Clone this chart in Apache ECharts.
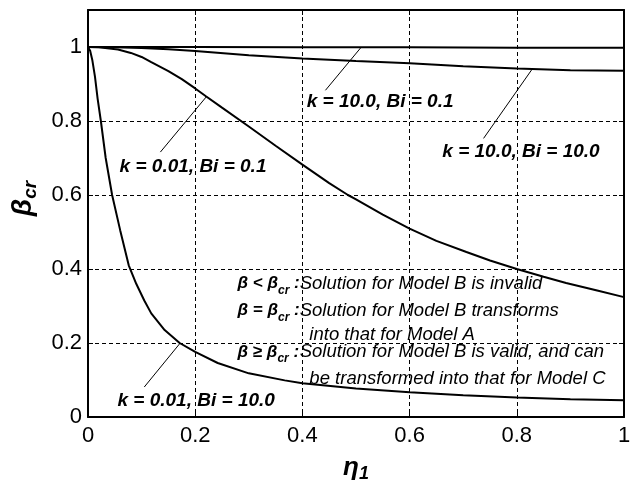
<!DOCTYPE html>
<html>
<head>
<meta charset="utf-8">
<script src="https://cdn.jsdelivr.net/npm/echarts@6/dist/echarts.min.js"></script>
<style>html,body{margin:0;padding:0;background:#fff}#c{width:630px;height:481px}</style>
</head>
<body>
<div id="c"></div>
<script>
// ---- data ----
const xTicks = [0, 0.2, 0.4, 0.6, 0.8, 1];
const yTicks = [0, 0.2, 0.4, 0.6, 0.8, 1];

// k = 10.0, Bi = 0.1
const etaA  = [0, 0.2, 0.4, 0.6, 0.8, 1.0];
const betaA = [1.0, 1.0, 0.999, 0.999, 0.998, 0.998];

// k = 10.0, Bi = 10.0
const etaB  = [0, 0.05, 0.1, 0.15, 0.2, 0.3, 0.4, 0.5, 0.6, 0.7, 0.8, 0.9, 1.0];
const betaB = [1.0, 0.999, 0.997, 0.994, 0.989, 0.978, 0.969, 0.962, 0.956, 0.948, 0.942, 0.937, 0.936];

// k = 0.01, Bi = 0.1
const etaC  = [0, 0.02, 0.056, 0.08, 0.1, 0.118, 0.15, 0.175, 0.2, 0.22, 0.25, 0.3, 0.35, 0.4, 0.45, 0.485, 0.5, 0.55, 0.6, 0.65, 0.706, 0.75, 0.8, 0.85, 0.892, 0.95, 1.0];
const betaC = [1.0, 0.999, 0.993, 0.984, 0.973, 0.959, 0.935, 0.913, 0.888, 0.867, 0.836, 0.785, 0.733, 0.682, 0.632, 0.6, 0.588, 0.547, 0.509, 0.476, 0.446, 0.423, 0.4, 0.379, 0.362, 0.342, 0.324];

// k = 0.01, Bi = 10.0
const etaD  = [0, 0.004, 0.008, 0.013, 0.018, 0.024, 0.033, 0.045, 0.06, 0.076, 0.09, 0.105, 0.118, 0.143, 0.171, 0.2, 0.242, 0.3, 0.367, 0.4, 0.5, 0.6, 0.7, 0.8, 0.9, 1.0];
const betaD = [1.0, 0.99, 0.965, 0.92, 0.86, 0.8, 0.7, 0.6, 0.505, 0.41, 0.36, 0.315, 0.28, 0.235, 0.2, 0.176, 0.146, 0.118, 0.099, 0.091, 0.077, 0.067, 0.059, 0.053, 0.048, 0.045];

// curve labels (left edge / vertical centre, in data units)
const curveLabels   = ['k = 10.0, Bi = 0.1', 'k = 10.0, Bi = 10.0', 'k = 0.01, Bi = 0.1', 'k = 0.01, Bi = 10.0'];
const curveLabelEta = [0.408, 0.661, 0.059, 0.055];
const curveLabelBeta= [0.851, 0.716, 0.676, 0.045];

// leader lines
const leaderFromEta  = [0.443, 0.738, 0.135, 0.105];
const leaderFromBeta = [0.883, 0.753, 0.716, 0.081];
const leaderToEta    = [0.510, 0.829, 0.2205, 0.171];
const leaderToBeta   = [1.0, 0.941, 0.865, 0.198];

// note block
const noteSymbols    = ['{b|β < β}{s|cr}{b| :}', '{b|β = β}{s|cr}{b| :}', '{b|β ≥ β}{s|cr}{b| :}'];
const noteSymbolEta  = [0.279, 0.279, 0.279];
const noteSymbolBeta = [0.3605, 0.288, 0.1757];
const noteTexts      = ['Solution for Model B is invalid', 'Solution for Model B transforms', 'into that for Model A', 'Solution for Model B is valid, and can', 'be transformed into that for Model C'];
const noteTextEta    = [0.395, 0.395, 0.413, 0.395, 0.413];
const noteTextBeta   = [0.3605, 0.288, 0.2208, 0.1757, 0.1038];

// ---- chart ----
const FONT = '"Liberation Sans", Arial, Helvetica, sans-serif';
const zip = (a, b) => a.map((v, i) => [v, b[i]]);

const curveStyle = {
  type: 'line', showSymbol: false, smooth: false,
  lineStyle: { color: '#000', width: 2 }, itemStyle: { color: '#000' },
  silent: true, z: 5
};

const series = [
  Object.assign({ name: 'A', data: zip(etaA, betaA) }, curveStyle),
  Object.assign({ name: 'B', data: zip(etaB, betaB) }, curveStyle),
  Object.assign({ name: 'C', data: zip(etaC, betaC) }, curveStyle),
  Object.assign({ name: 'D', data: zip(etaD, betaD) }, curveStyle)
];

leaderFromEta.forEach((e, i) => {
  series.push({
    type: 'line', showSymbol: false, silent: true, z: 4,
    lineStyle: { color: '#000', width: 1 },
    data: [[e, leaderFromBeta[i]], [leaderToEta[i], leaderToBeta[i]]]
  });
});

const splitLine = { show: true, lineStyle: { color: '#000', width: 1, type: [4, 3] } };
const axisLine = { show: true, onZero: false, lineStyle: { color: '#000', width: 2 } };
const axisTick = { show: true, inside: true, length: 5, lineStyle: { color: '#000', width: 1 } };

const option = {
  animation: false,
  backgroundColor: '#fff',
  grid: { left: 88, right: 6, top: 10, bottom: 64, containLabel: false, outerBoundsMode: 'none' },
  xAxis: [{
    type: 'value', min: 0, max: 1, interval: 0.2,
    axisLine, axisTick, splitLine,
    axisLabel: { color: '#000', fontSize: 22, fontFamily: FONT, margin: 8,
      formatter: v => { const t = xTicks.find(x => Math.abs(x - v) < 1e-6); return t === undefined ? '' : String(t); } },
    name: '{b|η}{s|1}', nameLocation: 'middle', nameGap: 36,
    nameTextStyle: { rich: {
      b: { fontSize: 26, fontWeight: 'bold', fontStyle: 'italic', fontFamily: FONT, color: '#000', lineHeight: 30 },
      s: { fontSize: 18, fontWeight: 'bold', fontStyle: 'italic', fontFamily: FONT, color: '#000', lineHeight: 18, verticalAlign: 'bottom' }
    } }
  }, {
    type: 'value', min: 0, max: 1, interval: 0.2, position: 'top',
    axisLine, axisTick, axisLabel: { show: false }, splitLine: { show: false }
  }],
  yAxis: [{
    type: 'value', min: 0, max: 1.1, interval: 0.2,
    axisLine, axisTick, splitLine,
    axisLabel: { color: '#000', fontSize: 22, fontFamily: FONT, margin: 6,
      formatter: v => { const t = yTicks.find(y => Math.abs(y - v) < 1e-6); return t === undefined ? '' : String(t); } },
    name: '{b|β}{s|cr}', nameLocation: 'middle', nameGap: 32,
    nameTextStyle: { padding: [0, 0, 0, 30], rich: {
      b: { fontSize: 28, fontWeight: 'bold', fontStyle: 'italic', fontFamily: FONT, color: '#000', lineHeight: 34 },
      s: { fontSize: 19, fontWeight: 'bold', fontStyle: 'italic', fontFamily: FONT, color: '#000', lineHeight: 19, verticalAlign: 'bottom' }
    } }
  }, {
    type: 'value', min: 0, max: 1.1, interval: 0.2, position: 'right',
    axisLine, axisTick, axisLabel: { show: false }, splitLine: { show: false }
  }],
  series
};

const chart = echarts.init(document.getElementById('c'), null, { renderer: 'canvas' });
chart.setOption(option);

// annotation texts placed through the chart's own coordinate conversion
const px = (e, b) => chart.convertToPixel({ xAxisIndex: 0, yAxisIndex: 0 }, [e, b]);
const graphics = [];
curveLabels.forEach((t, i) => {
  const p = px(curveLabelEta[i], curveLabelBeta[i]);
  graphics.push({ type: 'text', x: p[0], y: p[1], z: 100, silent: true,
    style: { text: t, fill: '#000', fontSize: 19, fontWeight: 'bold', fontStyle: 'italic', fontFamily: FONT,
      align: 'left', verticalAlign: 'middle' } });
});
noteTexts.forEach((t, i) => {
  const p = px(noteTextEta[i], noteTextBeta[i]);
  graphics.push({ type: 'text', x: p[0], y: p[1], z: 100, silent: true,
    style: { text: t, fill: '#000', fontSize: 18.5, fontStyle: 'italic', fontFamily: FONT,
      align: 'left', verticalAlign: 'middle' } });
});
noteSymbols.forEach((t, i) => {
  const p = px(noteSymbolEta[i], noteSymbolBeta[i]);
  graphics.push({ type: 'text', x: p[0], y: p[1], z: 100, silent: true,
    style: { text: t, fill: '#000', align: 'left', verticalAlign: 'middle',
      rich: {
        b: { fontSize: 17, fontStyle: 'italic', fontWeight: 'bold', fontFamily: FONT, fill: '#000', color: '#000', lineHeight: 26 },
        s: { fontSize: 12, fontStyle: 'italic', fontWeight: 'bold', fontFamily: FONT, fill: '#000', color: '#000', lineHeight: 12, verticalAlign: 'bottom' }
      } } });
});
chart.setOption({ graphic: graphics });
</script>
</body>
</html>
